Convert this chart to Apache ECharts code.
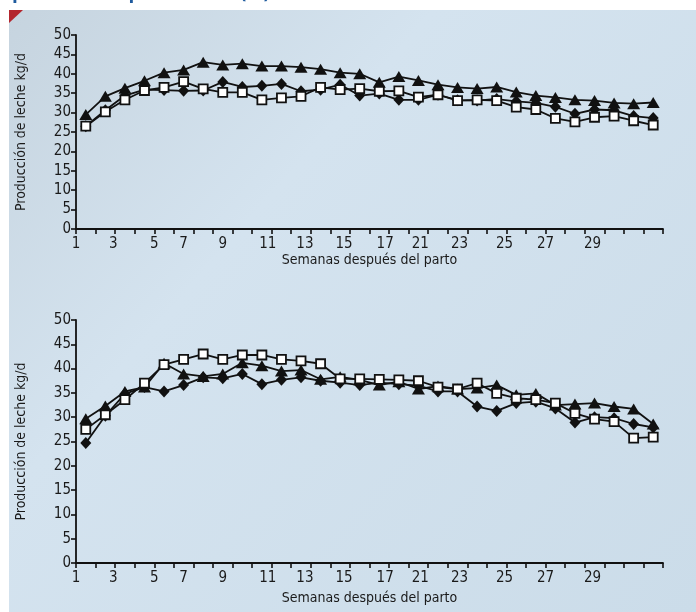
<!DOCTYPE html>
<html>
<head>
	<meta charset="utf-8">
	<title>Producción de leche</title>
	<script src="https://cdn.jsdelivr.net/npm/echarts@6/dist/echarts.min.js"></script>
	<style type="text/css">
		html, body{ margin:0; padding:0; background:#fff; }
		#main{ width:696px; height:612px; }
	</style>
</head>
<body>
	<div id="main"></div>
	<script type="text/javascript">
		// 30 semanas, un punto por semana (centro de cada intervalo)
		var weekCount = 30;
		// etiquetas del eje x, tal como aparecen (posición en unidades de marca)
		var weekLabels   = ['1', '3', '5', '7', '9', '11', '13', '15', '17', '21', '23', '25', '27', '29'];
		var weekLabelPos = [0, 1.9, 4.0, 5.5, 7.5, 9.8, 11.7, 13.7, 15.8, 17.6, 19.6, 21.9, 24.0, 26.4];

		// gráfico superior
		var topTriangle = [29.5, 34.2, 36.3, 38.2, 40.3, 41.0, 43.0, 42.3, 42.6, 42.0, 42.0, 41.7, 41.2, 40.3, 40.0,
			37.8, 39.3, 38.3, 37.2, 36.5, 36.2, 36.6, 35.3, 34.4, 33.9, 33.3, 33.1, 32.5, 32.3, 32.6];
		var topDiamond = [26.5, 30.6, 34.4, 35.9, 35.8, 35.6, 35.7, 37.9, 36.6, 36.9, 37.4, 35.5, 35.9, 37.2, 34.4,
			34.9, 33.3, 33.3, 34.6, 33.2, 33.1, 33.5, 32.9, 32.5, 31.5, 29.7, 30.8, 30.6, 29.1, 28.6];
		var topSquare = [26.5, 30.2, 33.3, 35.7, 36.5, 38.0, 36.1, 35.2, 35.2, 33.3, 33.8, 34.2, 36.5, 35.9, 36.2,
			35.5, 35.6, 34.0, 34.6, 33.1, 33.3, 33.1, 31.4, 30.8, 28.5, 27.6, 28.8, 29.1, 27.9, 26.8];

		// gráfico inferior
		var botTriangle = [29.7, 32.3, 35.3, 36.2, 41.1, 38.9, 38.4, 38.9, 41.2, 40.6, 39.5, 39.7, 37.8, 38.3, 37.7,
			36.6, 37.3, 35.8, 36.4, 35.8, 36.0, 36.6, 34.6, 34.9, 32.5, 32.7, 32.9, 32.2, 31.7, 28.6];
		var botDiamond = [24.7, 30.3, 34.8, 36.2, 35.3, 36.6, 38.2, 38.0, 38.9, 36.8, 37.7, 38.2, 37.5, 37.1, 36.6,
			37.1, 36.8, 36.5, 35.3, 35.3, 32.2, 31.3, 32.9, 33.2, 31.8, 28.9, 30.0, 29.8, 28.6, 27.9];
		var botSquare = [27.5, 30.5, 33.6, 37.0, 40.8, 41.9, 43.0, 41.9, 42.8, 42.8, 41.9, 41.6, 41.0, 37.9, 37.9,
			37.8, 37.7, 37.5, 36.2, 35.8, 37.0, 34.9, 33.9, 33.6, 32.9, 30.8, 29.6, 29.1, 25.7, 25.9];

		var yTitle = 'Producción de leche kg/d';
		var xTitle = 'Semanas después del parto';

		var font = '"DejaVu Sans Condensed", "Liberation Sans Narrow", sans-serif';

		var labelMap = {};
		for(var i = 0; i < weekLabels.length; i++){
			labelMap[Math.round(weekLabelPos[i] * 10)] = weekLabels[i];
		}

		var toPoints = function(arr){
			var ret = [];
			for(var i = 0; i < arr.length; i++){
				ret.push([i + 0.5, arr[i]]);
			}
			return ret;
		};

		var makeSeries = function(data, idx, shape){
			var s = {
				type: 'line',
				xAxisIndex: idx * 2,
				yAxisIndex: idx,
				data: toPoints(data),
				lineStyle: { color: '#111', width: 1.8 },
				itemStyle: { color: '#111', borderColor: '#111', borderWidth: 0 },
				animation: false
			};
			if(shape === 'square'){
				s.symbol = 'rect';
				s.symbolSize = 9;
				s.itemStyle = { color: '#fff', borderColor: '#111', borderWidth: 1.8 };
				s.z = 4;
			}
			else if(shape === 'diamond'){
				s.symbol = 'diamond';
				s.symbolSize = [11, 12];
				s.z = 3;
			}
			else{
				s.symbol = 'triangle';
				s.symbolSize = [13, 11];
				s.z = 2;
			}
			return s;
		};

		var tickAxis = function(idx){
			return {
				type: 'value', gridIndex: idx, min: 0, max: weekCount, interval: 1,
				axisLine: { show: true, onZero: false, lineStyle: { color: '#111', width: 1.8 } },
				axisTick: { show: true, length: 5, lineStyle: { color: '#111', width: 1.6 } },
				axisLabel: { show: false },
				splitLine: { show: false }
			};
		};
		var labelAxis = function(idx, gap){
			return {
				type: 'value', gridIndex: idx, min: 0, max: weekCount, interval: 0.1,
				position: 'bottom',
				axisLine: { show: false },
				axisTick: { show: false },
				splitLine: { show: false },
				axisLabel: {
					show: true, margin: 8, color: '#1a1a1a', fontFamily: font, fontSize: 15,
					formatter: function(v){ return labelMap[Math.round(v * 10)] || ''; }
				},
				name: xTitle, nameLocation: 'middle', nameGap: gap,
				nameTextStyle: { color: '#1a1a1a', fontFamily: font, fontSize: 14 }
			};
		};
		var yAxis = function(idx){
			return {
				type: 'value', gridIndex: idx, min: 0, max: 50, interval: 5,
				axisLine: { show: true, lineStyle: { color: '#111', width: 1.8 } },
				axisTick: { show: true, length: 5, lineStyle: { color: '#111', width: 1.6 } },
				axisLabel: { margin: 5, color: '#1a1a1a', fontFamily: font, fontSize: 15 },
				splitLine: { show: false },
				name: yTitle, nameLocation: 'middle', nameGap: 48, nameRotate: 90,
				nameTextStyle: { color: '#1a1a1a', fontFamily: font, fontSize: 14 }
			};
		};

		var myChart = echarts.init(document.getElementById('main'));
		var option = {
			backgroundColor: '#ffffff',
			graphic: [
				{
					type: 'rect', left: 9, top: 10, z: -10, silent: true,
					shape: { width: 687, height: 602 },
					style: {
						fill: {
							type: 'linear', x: 0, y: 0, x2: 1, y2: 1,
							colorStops: [
								{ offset: 0, color: '#c6d4df' },
								{ offset: 0.35, color: '#d4e3ef' },
								{ offset: 1, color: '#cbdce9' }
							]
						}
					}
				},
				{
					type: 'polygon', z: -5, silent: true,
					shape: { points: [[9, 10], [23, 10], [9, 23]] },
					style: { fill: '#b3262e' }
				},
				{
					type: 'text', left: 12, top: -17, silent: true, z: -20,
					style: {
						text: 'por nivel de producción (%)', fill: '#1f5b9e',
						font: 'bold 19px "Open Sans", sans-serif'
					}
				}
			],
			grid: [
				{ left: 76, top: 35, width: 587, height: 194 },
				{ left: 76, top: 320, width: 587, height: 243 }
			],
			xAxis: [tickAxis(0), labelAxis(0, 20), tickAxis(1), labelAxis(1, 28)],
			yAxis: [yAxis(0), yAxis(1)],
			series: [
				makeSeries(topTriangle, 0, 'triangle'),
				makeSeries(topDiamond, 0, 'diamond'),
				makeSeries(topSquare, 0, 'square'),
				makeSeries(botTriangle, 1, 'triangle'),
				makeSeries(botDiamond, 1, 'diamond'),
				makeSeries(botSquare, 1, 'square')
			]
		};
		myChart.setOption(option);
	</script>
</body>
</html>
